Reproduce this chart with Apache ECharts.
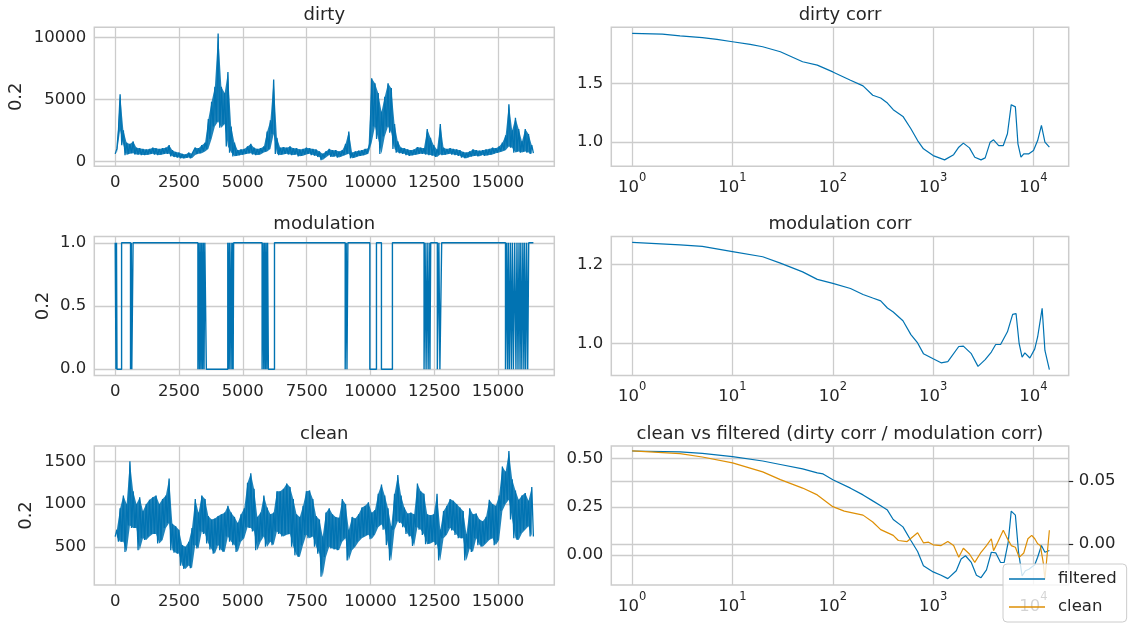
<!DOCTYPE html>
<html><head><meta charset="utf-8">
<script src="https://cdn.jsdelivr.net/npm/echarts@6/dist/echarts.min.js"></script>
<style>html,body{margin:0;padding:0;background:#fff}#c{width:1136px;height:632px}</style>
</head><body><div id="c"></div><script>
// ---------- data ----------
const CHUNK = 128;            // samples per envelope chunk (lo at start, hi at middle)
const LAST_SAMPLE = 16383;
const dirtyLo = [600,2500,1300,500,600,650,550,550,500,500,550,600,550,500,550,600,600,400,350,300,
250,250,300,250,500,600,650,800,1000,1800,2800,3200,2700,3000,1200,700,400,450,500,550,
600,650,550,500,550,700,800,1000,2200,600,500,550,600,550,500,550,400,450,550,600,
500,450,350,100,300,500,350,400,300,400,500,600,250,300,400,450,500,600,1500,2800,
1800,600,2000,2800,2300,1000,700,650,600,500,450,500,550,600,600,550,500,450,350,550,
500,550,600,550,500,450,300,250,350,400,450,400,500,450,500,550,650,700,800,900,
1200,1100,700,800,700,800,700,600];
const dirtyHi = [1000,5400,2500,1500,1400,1600,1100,1050,1000,950,1000,1100,1050,1000,1050,1100,1300,900,750,700,
600,550,700,600,1100,1050,1300,1500,3400,4800,6000,10300,6000,5500,7200,2800,1500,900,950,1000,
1200,1400,1100,1000,1050,1200,2400,3300,6600,1900,1100,1150,1100,1200,1050,1050,950,1000,1100,1050,
1000,950,800,600,800,1000,900,900,800,900,1400,2400,700,800,850,900,1000,1050,6700,6300,
5500,4000,5200,6300,5900,3000,1600,1100,1050,950,900,950,1150,1100,1050,2600,1900,1300,950,3000,
1100,1000,1050,1000,950,900,750,700,800,950,900,850,900,950,1000,1100,1050,1200,1500,2100,
4600,2500,3500,2600,1600,2600,2200,1300];
const dirtyEnd = 650;
const cleanLo = [620,560,560,440,750,720,720,460,600,580,620,650,650,540,580,720,780,460,430,420,
280,240,280,250,520,480,680,650,540,470,420,520,460,440,620,560,520,440,560,600,
730,720,680,460,560,620,500,560,520,680,650,620,640,650,500,400,380,520,640,600,
620,500,420,150,380,500,480,470,460,560,600,340,460,500,560,600,620,640,590,640,
730,760,700,520,340,700,800,780,730,650,620,510,730,700,640,530,540,560,520,340,
600,640,720,690,640,600,600,340,480,440,600,520,500,540,580,600,520,580,920,1000,
1050,820,600,580,660,700,740,620];
const cleanHi = [700,950,1100,1000,1500,1150,1000,1080,920,1000,1050,1080,1100,1000,1060,1100,1300,770,740,700,
520,500,560,720,1060,900,1100,1060,860,820,830,860,880,900,980,900,850,780,880,950,
1250,1360,1180,850,900,1100,960,880,900,1150,1150,1180,1240,1200,1060,880,850,980,1150,1160,
1060,860,820,620,900,950,880,850,840,1060,1000,700,850,830,880,960,980,1020,900,930,
1120,1230,1100,950,740,1120,1340,1100,960,890,900,880,1240,1150,1120,880,870,880,1120,700,
920,980,1060,1040,1000,960,920,650,950,880,890,820,800,850,1050,1000,980,1100,1440,1380,
1620,1290,1160,1050,1100,1130,1040,1200];
const cleanEnd = 620;
const modSwitchX = [0,30,50,70,250,600,630,650,700,
3240,3270,3300,3330,3360,3390,3420,3450,3480,3510,3545,3570,
4410,4440,4470,4500,4540,4570,4600,4620,4640,
5755,5790,5820,5850,5880,5910,5940,5970,6000,6240,
9010,9050,9080,9115,
9975,10235,10430,10860,
12100,12140,12180,12220,12260,12300,12330,12360,12620,12680,12720,12790,
15290,15330,15370,15400,15440,15480,15520,15560,15600,15650,15700,15740,15780,15820,15860,15890,15930,15970,16010,16040,16080,16120,16160,16200,16383];
const modSwitchV = [1,0,1,0,1,0,1,0,1,
0,1,0,1,0,1,0,1,0,1,1,0,
1,0,1,0,1,0,1,0,1,
0,1,0,1,0,1,0,1,0,1,
0,1,0,1,
0,1,0,1,
0,1,0,1,0,1,0,1,0,1,0,1,
0,1,0,1,0,1,0,1,0,1,0,1,0,1,0,1,0,1,0,1,0,1,0,1,1];

const dirtyCorrLag = [1,2,3,5,7,10,15,20,30,50,70,100,150,200,250,300,350,400,500,600,700,800,1000,1300,1600,1800,2000,2300,2600,3000,3300,3700,4000,4500,5000,5500,6000,6600,7000,7500,8000,9000,10000,11000,12000,13000,14400];
const dirtyCorrVal = [1.931,1.925,1.91,1.894,1.879,1.859,1.836,1.816,1.773,1.687,1.658,1.60,1.529,1.48,1.40,1.376,1.333,1.276,1.218,1.112,1.011,0.94,0.882,0.845,0.89,0.954,0.989,0.948,0.868,0.845,0.862,0.997,1.017,0.968,0.968,1.069,1.319,1.30,0.983,0.868,0.897,0.897,0.925,1.011,1.141,0.997,0.954];
const modCorrLag = [1,3,5,10,20,30,50,70,100,150,200,250,300,350,400,500,600,700,800,1000,1200,1400,1800,2000,2400,2800,3300,3800,4200,4700,5500,6200,6700,7200,7700,8200,9200,10300,11000,12200,13000,14400];
const modCorrVal = [1.255,1.249,1.245,1.232,1.219,1.203,1.181,1.162,1.152,1.139,1.124,1.115,1.108,1.09,1.08,1.058,1.023,1.002,0.975,0.962,0.952,0.955,0.993,0.994,0.975,0.943,0.96,0.979,0.998,0.998,1.03,1.074,1.076,1.0,0.966,0.977,0.964,0.987,1.017,1.089,0.983,0.935];
const filteredLag = [1,3,5,10,20,30,50,70,80,100,150,200,250,300,350,400,500,600,700,800,1000,1200,1400,1700,1900,2100,2400,2700,3000,3400,3800,4200,4700,5100,5600,6000,6600,7100,7700,8300,9000,10300,11000,12000,13000,14400];
const filteredVal = [0.540,0.535,0.528,0.511,0.488,0.470,0.447,0.426,0.421,0.391,0.347,0.312,0.281,0.256,0.233,0.184,0.146,0.075,0.018,-0.056,-0.088,-0.105,-0.123,-0.082,-0.021,-0.004,-0.039,-0.105,-0.118,-0.077,0.014,0.011,-0.039,-0.039,0.067,0.228,0.207,0.014,-0.109,-0.082,-0.074,-0.051,-0.012,0.049,0.014,0.023];
const cleanCorrLag = [1,3,5,10,20,30,50,70,100,130,200,250,300,400,450,550,700,800,900,1000,1200,1400,1600,1800,2000,2300,2600,3000,3400,3800,4000,4400,5000,5400,6000,6600,7200,8000,8800,9600,10300,11000,11700,12500,13000,14400];
const cleanCorrVal = [0.0738,0.0717,0.0690,0.0644,0.0572,0.0511,0.0444,0.0390,0.0297,0.0262,0.0230,0.0176,0.0115,0.0070,0.0029,0.0021,0.0091,0.0011,0.0016,-0.0005,-0.0011,0.0021,-0.0011,-0.0104,-0.0032,-0.0078,-0.0144,-0.0064,-0.0011,0.0043,-0.0051,0.0016,0.0110,0.0056,-0.0011,-0.0024,-0.0104,-0.0070,0.0043,0.0070,0.0043,0.0003,-0.0011,-0.0144,-0.0278,0.0110];

const timeTicks = [0,2500,5000,7500,10000,12500,15000];
const dirtyTicks = [0,5000,10000];
const modTicks = [0,0.5,1];
const cleanTicks = [500,1000,1500];
const lagTicks = [1,10,100,1000,10000];
const dirtyCorrTicks = [1.0,1.5];
const modCorrTicks = [1.0,1.2];
const filtTicks = [0,0.25,0.5];
const cleanCorrTicks = [0,0.05];

// ---------- helpers ----------
function zigzag(lo, hi, endVal) {
  const d = [];
  for (let i = 0; i < lo.length; i++) {
    d.push([i * CHUNK, lo[i]]);
    d.push([i * CHUNK + CHUNK / 2, hi[i]]);
  }
  d.push([LAST_SAMPLE, endVal]);
  return d;
}
function bandData(lo, hi) { return lo.map((v, i) => [i * CHUNK + CHUNK / 2, v, hi[i]]); }
function pairs(xs, ys) { return xs.map((x, i) => [x, ys[i]]); }

const BLUE = '#0173b2', ORANGE = '#de8f05', TXT = '#262626', GRIDC = '#cccccc';
const FONT = 'DejaVu Sans';
const ROWS = [27.3, 236.5, 446];
const RH = 139;
const LX = 94.3, LW = 460, RX = 611.3, RW = 457.4;

const grids = [];
ROWS.forEach(t => grids.push({left: LX, top: t, width: LW, height: RH, show: true, borderColor: GRIDC, borderWidth: 1.5, backgroundColor: 'transparent', containLabel: false, outerBoundsMode: 'none'}));
ROWS.forEach(t => grids.push({left: RX, top: t, width: RW, height: RH, show: true, borderColor: GRIDC, borderWidth: 1.5, backgroundColor: 'transparent', containLabel: false, outerBoundsMode: 'none'}));

const split = {show: true, lineStyle: {color: GRIDC, width: 1.3}};
function lbl(ticks, fmt, margin) {
  return {customValues: ticks, formatter: fmt, color: TXT, fontSize: 16.5, fontFamily: FONT, margin: margin, showMinLabel: true, showMaxLabel: true};
}
function timeX(g) {
  return {type: 'value', gridIndex: g, min: -819.15, max: 17202.15, axisLine: {show: false},
    axisTick: {show: false, customValues: timeTicks}, axisLabel: lbl(timeTicks, v => String(v), 8), splitLine: split};
}
const supFmt = v => '{b|10}{s|' + Math.round(Math.log10(v)) + '}';
function lagX(g) {
  const l = lbl(lagTicks, supFmt, 6);
  l.rich = {b: {fontSize: 16.5, fontFamily: FONT, color: TXT, verticalAlign: 'bottom', lineHeight: 24},
            s: {fontSize: 11.5, fontFamily: FONT, color: TXT, verticalAlign: 'top', lineHeight: 24}};
  return {type: 'log', logBase: 10, gridIndex: g, min: Math.pow(10, -0.208), max: Math.pow(10, 4.351), axisLine: {show: false},
    axisTick: {show: false, customValues: lagTicks}, axisLabel: l, splitLine: split};
}
function yAx(g, min, max, ticks, fmt, extra) {
  const a = {type: 'value', gridIndex: g, min: min, max: max, axisLine: {show: false},
    axisTick: {show: false, customValues: ticks}, axisLabel: lbl(ticks, fmt, 8), splitLine: split};
  return Object.assign(a, extra || {});
}
function line(name, xi, yi, data, color, width, extra) {
  return Object.assign({name: name, type: 'line', xAxisIndex: xi, yAxisIndex: yi, data: data, showSymbol: false, symbol: 'none',
    lineStyle: {color: color, width: width}, itemStyle: {color: color}}, extra || {});
}
// filled envelope between lo and hi, drawn once as one polygon through the axis scales
function band(name, xi, yi, data) {
  return {
    name: name, type: 'custom', coordinateSystem: 'cartesian2d', xAxisIndex: xi, yAxisIndex: yi,
    data: data, encode: {x: 0, y: [1, 2]}, silent: true, z: 2,
    renderItem: function (params, api) {
      if (params.dataIndexInside !== 0) return null;
      const n = params.dataInsideLength;
      const pts = [];
      for (let j = 0; j < n; j++) pts.push(api.coord([api.value(0, j), api.value(1, j)]));
      for (let j = n - 1; j >= 0; j--) pts.push(api.coord([api.value(0, j), api.value(2, j)]));
      return {type: 'polygon', shape: {points: pts}, style: {fill: BLUE, opacity: 0.88}};
    }
  };
}

const option = {
  animation: false,
  backgroundColor: '#ffffff',
  grid: grids,
  xAxis: [timeX(0), timeX(1), timeX(2), lagX(3), lagX(4), lagX(5)],
  yAxis: [
    yAx(0, -403, 10806, dirtyTicks, v => String(v)),
    yAx(1, -0.05, 1.05, modTicks, v => v.toFixed(1)),
    yAx(2, 53, 1680, cleanTicks, v => String(v)),
    yAx(3, 0.790, 1.983, dirtyCorrTicks, v => v.toFixed(1)),
    yAx(4, 0.920, 1.270, modCorrTicks, v => v.toFixed(1)),
    yAx(5, -0.156, 0.566, filtTicks, v => v.toFixed(2)),
    yAx(5, -0.0323, 0.0777, cleanCorrTicks, v => v.toFixed(2), {position: 'right',
      axisTick: {show: true, customValues: cleanCorrTicks, length: 4.5, inside: false, lineStyle: {color: TXT, width: 1.2}},
      axisLabel: lbl(cleanCorrTicks, v => v.toFixed(2), 10)})
  ],
  legend: {
    orient: 'vertical', left: 1003, top: 564, z: 20,
    data: [{name: 'filtered', icon: 'rect'}, {name: 'clean', icon: 'rect'}],
    itemWidth: 36, itemHeight: 1.6, itemGap: 8, padding: [5, 10, 5, 6],
    backgroundColor: 'rgba(255,255,255,0.8)', borderColor: GRIDC, borderWidth: 1, borderRadius: 4,
    textStyle: {fontSize: 16.5, color: TXT, fontFamily: FONT, lineHeight: 20, padding: [0, 0, 0, 8]}
  },
  series: [
    band('dirty band', 0, 0, bandData(dirtyLo, dirtyHi)),
    line('dirty', 0, 0, zigzag(dirtyLo, dirtyHi, dirtyEnd), BLUE, 1.3),
    line('modulation', 1, 1, pairs(modSwitchX, modSwitchV), BLUE, 1.4, {step: 'end'}),
    band('clean band', 2, 2, bandData(cleanLo, cleanHi)),
    line('clean signal', 2, 2, zigzag(cleanLo, cleanHi, cleanEnd), BLUE, 1.3),
    line('dirty corr', 3, 3, pairs(dirtyCorrLag, dirtyCorrVal), BLUE, 1.2),
    line('modulation corr', 4, 4, pairs(modCorrLag, modCorrVal), BLUE, 1.2),
    line('filtered', 5, 5, pairs(filteredLag, filteredVal), BLUE, 1.2),
    line('clean', 5, 6, pairs(cleanCorrLag, cleanCorrVal), ORANGE, 1.2, {z: 3})
  ],
  graphic: [
    {type: 'text', x: LX + LW / 2, y: 15.6, style: {text: 'dirty', fill: TXT, font: '18px "DejaVu Sans"', align: 'center', verticalAlign: 'middle'}},
    {type: 'text', x: LX + LW / 2, y: 224.8, style: {text: 'modulation', fill: TXT, font: '18px "DejaVu Sans"', align: 'center', verticalAlign: 'middle'}},
    {type: 'text', x: LX + LW / 2, y: 434.3, style: {text: 'clean', fill: TXT, font: '18px "DejaVu Sans"', align: 'center', verticalAlign: 'middle'}},
    {type: 'text', x: RX + RW / 2, y: 15.6, style: {text: 'dirty corr', fill: TXT, font: '18px "DejaVu Sans"', align: 'center', verticalAlign: 'middle'}},
    {type: 'text', x: RX + RW / 2, y: 224.8, style: {text: 'modulation corr', fill: TXT, font: '18px "DejaVu Sans"', align: 'center', verticalAlign: 'middle'}},
    {type: 'text', x: RX + RW / 2, y: 434.3, style: {text: 'clean vs filtered (dirty corr / modulation corr)', fill: TXT, font: '18px "DejaVu Sans"', align: 'center', verticalAlign: 'middle'}},
    {type: 'text', x: 16, y: ROWS[0] + RH / 2, rotation: Math.PI / 2, style: {text: '0.2', fill: TXT, font: '18px "DejaVu Sans"', align: 'center', verticalAlign: 'middle'}},
    {type: 'text', x: 43.8, y: ROWS[1] + RH / 2, rotation: Math.PI / 2, style: {text: '0.2', fill: TXT, font: '18px "DejaVu Sans"', align: 'center', verticalAlign: 'middle'}},
    {type: 'text', x: 26.8, y: ROWS[2] + RH / 2, rotation: Math.PI / 2, style: {text: '0.2', fill: TXT, font: '18px "DejaVu Sans"', align: 'center', verticalAlign: 'middle'}}
  ]
};
const chart = echarts.init(document.getElementById('c'), null, {renderer: 'canvas'});
chart.setOption(option);
</script></body></html>
